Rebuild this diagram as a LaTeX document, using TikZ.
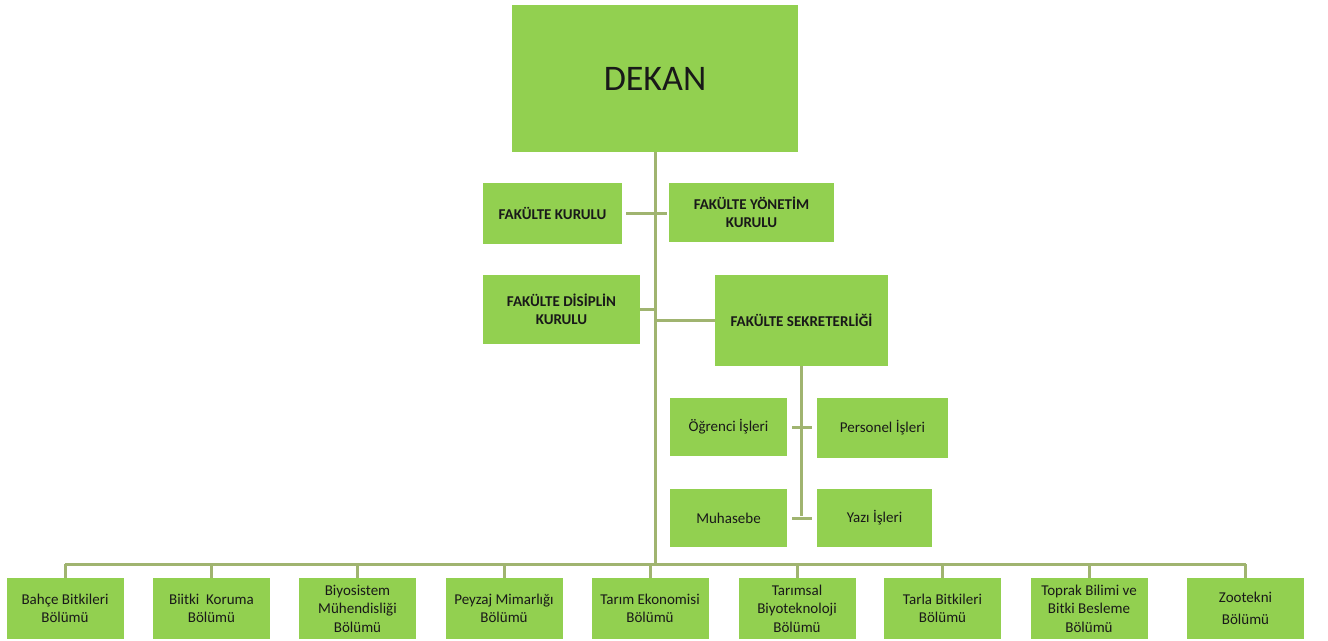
\documentclass[tikz,border=0pt]{standalone}
\usepackage{fontspec}
\setmainfont{Carlito}
\usepackage{tikz}
\usetikzlibrary{calc}

\definecolor{boxgreen}{RGB}{146,208,80}
\definecolor{linegreen}{RGB}{160,180,112}

\begin{document}
\begin{tikzpicture}[x=1pt, y=-1pt,
        box/.style={fill=boxgreen, draw=none, align=center, inner sep=2pt,
            text=black!90, font=\fontsize{15}{18.5}\selectfont},
        capbox/.style={box, font=\fontsize{15}{18.5}\selectfont\bfseries},
        dept/.style={box, minimum width=117pt, minimum height=61pt},
        link/.style={draw=linegreen, line width=3pt}]
        \useasboundingbox (0, 0) rectangle (1328, 640);

        % upper part
        \node[box, minimum width=286pt, minimum height=147pt,
            font=\fontsize{36}{40}\selectfont] (1) at (655, 78.5) {DEKAN};
        \node[capbox, minimum width=139pt, minimum height=61pt] (2) at (552.5, 213.5) {FAKÜLTE KURULU};
        \node[capbox, minimum width=165pt, minimum height=59pt] (3) at (751.5, 212.5) {FAKÜLTE YÖNETİM\\KURULU};
        \node[capbox, minimum width=157pt, minimum height=69pt] (4) at (561.5, 309.5) {FAKÜLTE DİSİPLİN\\KURULU};
        \node[capbox, minimum width=173pt, minimum height=91pt] (5) at (801.5, 320.5) {FAKÜLTE SEKRETERLİĞİ};
        \node[box, minimum width=117pt, minimum height=58pt] (6) at (728.5, 427) {Öğrenci İşleri};
        \node[box, minimum width=131pt, minimum height=60pt] (7) at (882.5, 428) {Personel İşleri};
        \node[box, minimum width=117pt, minimum height=58pt] (8) at (728.5, 518) {Muhasebe};
        \node[box, minimum width=115pt, minimum height=58pt] (9) at (874.5, 518) {Yazı İşleri};

        % departments
        \node[dept] (b1) at (65, 608.5) {Bahçe Bitkileri\\Bölümü};
        \node[dept] (b2) at (211.5, 608.5) {Biitki\ \ Koruma\\Bölümü};
        \node[dept] (b3) at (357.5, 608.5) {Biyosistem\\Mühendisliği\\Bölümü};
        \node[dept] (b4) at (504, 608.5) {Peyzaj Mimarlığı\\Bölümü};
        \node[dept] (b5) at (650, 608.5) {Tarım Ekonomisi\\Bölümü};
        \node[dept] (b6) at (797, 608.5) {Tarımsal\\Biyoteknoloji\\Bölümü};
        \node[dept] (b7) at (942.5, 608.5) {Tarla Bitkileri\\Bölümü};
        \node[dept] (b8) at (1089, 608.5) {Toprak Bilimi ve\\Bitki Besleme\\Bölümü};
        \node[dept] (b9) at (1245.5, 608.5) {Zootekni\\[4pt]Bölümü};

        % connectors
        \coordinate (bus) at (655, 564);
        \draw[link] (1.south) -- (bus);
        \draw[link, shorten <=4pt, shorten >=2pt] (2.east) -- (2.east -| 3.west);
        \draw[link] (4.east) -- (4.east -| 1.south);
        \draw[link] (5.west -| 1.south) -- (5.west);
        \draw[link] (5.south) -- ($(5.south |- 9.west)+(0, -2)$);
        \draw[link, shorten <=5pt, shorten >=5pt] (6.east) -- (6.east -| 7.west);
        \draw[link, shorten <=5pt, shorten >=5pt] (8.east) -- (8.east -| 9.west);
        \draw[link] (b1.north |- bus) -- (b9.north |- bus);
        \foreach \n in {b1, b2, b3, b4, b5, b6, b7, b8, b9}
            \draw[link] (\n.north |- bus) -- (\n.north);
    \end{tikzpicture}
\end{document}
